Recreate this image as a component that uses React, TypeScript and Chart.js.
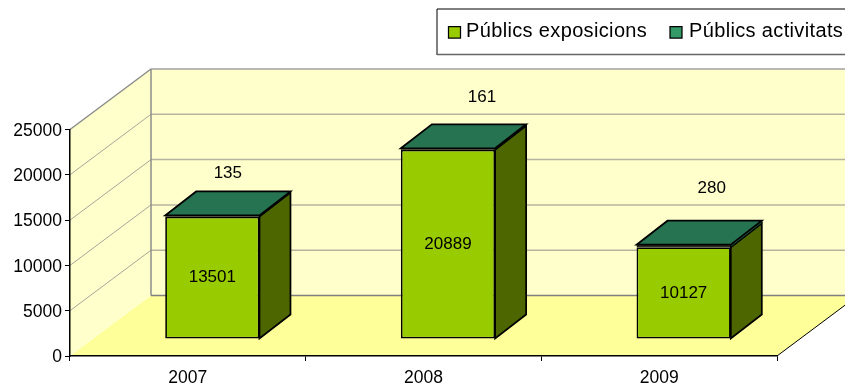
import React, { useEffect, useRef } from "react";
import { Chart, registerables } from "chart.js";

Chart.register(...registerables);

const years = ["2007", "2008", "2009"];
const exposicions = [13501, 20889, 10127];
const activitats = [135, 161, 280];
const axisTicks = [0, 5000, 10000, 15000, 20000, 25000];
const seriesNames = ["Públics exposicions", "Públics activitats"];

const FONT = '"Liberation Sans", Arial, sans-serif';
const DEPTH = { x: 81, y: -60.5 };
const BAR_SHIFT = { x: 24.5, y: -17 };
const BAR_DEPTH = { x: 31, y: -24 };
const TOP_LABEL_OFFSET = [[15.5, -42], [34, -51], [28, -56]];

function poly(ctx: CanvasRenderingContext2D, pts: number[][], fill?: string, stroke?: string, lw = 1) {
  ctx.beginPath();
  pts.forEach(([x, y], i) => (i ? ctx.lineTo(x, y) : ctx.moveTo(x, y)));
  ctx.closePath();
  if (fill) {
    ctx.fillStyle = fill;
    ctx.fill();
  }
  if (stroke) {
    ctx.strokeStyle = stroke;
    ctx.lineWidth = lw;
    ctx.stroke();
  }
}

function line(ctx: CanvasRenderingContext2D, x0: number, y0: number, x1: number, y1: number, color: string, lw: number) {
  ctx.beginPath();
  ctx.moveTo(x0, y0);
  ctx.lineTo(x1, y1);
  ctx.strokeStyle = color;
  ctx.lineWidth = lw;
  ctx.stroke();
}

// Walls and floor of the 3D box behind the bars
const box3d = {
  id: "box3d",
  beforeDraw(chart: any) {
    const { ctx, chartArea: a, scales } = chart;
    const y = scales.y;
    const dx = DEPTH.x;
    const dy = DEPTH.y;
    const top = y.getPixelForValue(25000);
    const base = y.getPixelForValue(0);
    ctx.save();
    poly(ctx, [[a.left, top], [a.left + dx, top + dy], [a.right + dx, top + dy], [a.right + dx, base + dy], [a.left + dx, base + dy], [a.left, base]], "#FFFFCC");
    poly(ctx, [[a.left, base], [a.right, base], [a.right + dx, base + dy], [a.left + dx, base + dy]], "#FFFF99");
    axisTicks.slice(1).forEach((v) => {
      const p = y.getPixelForValue(v);
      const last = v === 25000;
      line(ctx, a.left, p, a.left + dx, p + dy, last ? "#8C8C8C" : "#A6A69A", last ? 1.5 : 1);
      line(ctx, a.left + dx, p + dy, a.right + dx, p + dy, last ? "#A0A0A0" : "#B4B4A0", 1.5);
    });
    line(ctx, a.left + dx, top + dy, a.left + dx, base + dy, "#8C8C8C", 1.5);
    line(ctx, a.left + dx, base + dy, a.right + dx, base + dy, "#808080", 1.5);
    line(ctx, a.right, base, a.right + dx, base + dy, "#000000", 1);
    ctx.restore();
  },
};

// Moves the bars to their plane inside the box, then adds the side and top faces
const bars3d = {
  id: "bars3d",
  beforeDatasetDraw(chart: any) {
    chart.ctx.save();
    chart.ctx.translate(BAR_SHIFT.x, BAR_SHIFT.y);
  },
  afterDatasetDraw(chart: any) {
    chart.ctx.restore();
  },
  afterDatasetsDraw(chart: any) {
    const { ctx } = chart;
    const lower = chart.getDatasetMeta(0).data;
    const upper = chart.getDatasetMeta(1).data;
    const dx = BAR_DEPTH.x;
    const dy = BAR_DEPTH.y;
    ctx.save();
    ctx.translate(BAR_SHIFT.x, BAR_SHIFT.y);
    lower.forEach((bar: any, i: number) => {
      const l = bar.x - bar.width / 2;
      const r = bar.x + bar.width / 2;
      const mid = bar.y;
      const base = bar.base;
      const top = upper[i].y;
      poly(ctx, [[r, mid], [r + dx, mid + dy], [r + dx, base + dy], [r, base]], "#4D6600", "#000", 1.75);
      poly(ctx, [[r, top], [r + dx, top + dy], [r + dx, mid + dy], [r, mid]], "#1F5C40", "#000", 1);
      poly(ctx, [[l, top], [l + dx, top + dy], [r + dx, top + dy], [r, top]], "#267351", "#000", 1.75);

      ctx.fillStyle = "#000";
      ctx.font = `17px ${FONT}`;
      ctx.textAlign = "center";
      ctx.textBaseline = "middle";
      ctx.fillText(String(exposicions[i]), bar.x, (mid + base) / 2);
      const [ox, oy] = TOP_LABEL_OFFSET[i];
      ctx.fillText(String(activitats[i]), bar.x + ox, top + oy);
    });
    ctx.restore();
  },
};

// Framed legend in the upper right, running off the canvas edge
const boxedLegend = {
  id: "boxedLegend",
  afterDraw(chart: any) {
    const { ctx } = chart;
    ctx.save();
    ctx.fillStyle = "#fff";
    ctx.fillRect(437, 9, 420, 46);
    line(ctx, 437, 9, 860, 9, "#000", 1);
    line(ctx, 437, 9, 437, 55, "#000", 1);
    line(ctx, 437, 54.5, 860, 54.5, "#666", 1.5);
    const swatches = [[448.5, "#99CC00", 466], [670, "#339966", 689]] as [number, string, number][];
    chart.data.datasets.forEach((ds: any, i: number) => {
      const [sx, color, tx] = swatches[i];
      poly(ctx, [[sx, 26.5], [sx + 12, 26.5], [sx + 12, 38], [sx, 38]], color, "#000", 1.25);
      ctx.fillStyle = "#000";
      ctx.font = `20px ${FONT}`;
      (ctx as any).letterSpacing = "0.35px";
      ctx.textAlign = "left";
      ctx.textBaseline = "alphabetic";
      ctx.fillText(ds.label, tx, 37);
    });
    ctx.restore();
  },
};

export default function App() {
  const ref = useRef<HTMLCanvasElement | null>(null);

  useEffect(() => {
    if (!ref.current) return;
    const chart = new Chart(ref.current, {
      type: "bar",
      data: {
        labels: years,
        datasets: [
          { label: seriesNames[0], data: exposicions, backgroundColor: "#99CC00", borderColor: "#000", borderWidth: 1.75, borderSkipped: false, clip: false },
          { label: seriesNames[1], data: activitats, backgroundColor: "#000", borderColor: "#000", borderWidth: 1, borderSkipped: false, clip: false },
        ],
      },
      options: {
        animation: false,
        responsive: false,
        devicePixelRatio: 1,
        layout: { padding: { left: 0, right: 68, top: 129.5, bottom: 0 } },
        plugins: { legend: { display: false }, tooltip: { enabled: false } },
        datasets: { bar: { categoryPercentage: 1, barPercentage: 0.4 } },
        scales: {
          x: {
            stacked: true,
            afterFit: (s: any) => { s.height = 31; },
            grid: { offset: true, drawOnChartArea: false, color: "#000", tickLength: 5 },
            border: { color: "#000", width: 1.5 },
            ticks: { color: "#000", font: { family: FONT, size: 17.5 }, padding: 7, maxRotation: 0 },
          },
          y: {
            stacked: true,
            min: 0,
            max: 25000,
            afterFit: (s: any) => { s.width = 70; },
            afterBuildTicks: (s: any) => { s.ticks = axisTicks.map((value) => ({ value })); },
            grid: { drawOnChartArea: false, color: "#000", tickLength: 5 },
            border: { color: "#000", width: 1.5 },
            ticks: { color: "#000", font: { family: FONT, size: 17.5 }, padding: 3, labelOffset: 1.5, callback: (v: any) => String(v) },
          },
        },
      } as any,
      plugins: [box3d, bars3d, boxedLegend],
    });
    return () => chart.destroy();
  }, []);

  return (
    <canvas
      ref={ref}
      width={845}
      height={387}
      style={{ position: "absolute", left: 0, top: 0, display: "block" }}
    />
  );
}
